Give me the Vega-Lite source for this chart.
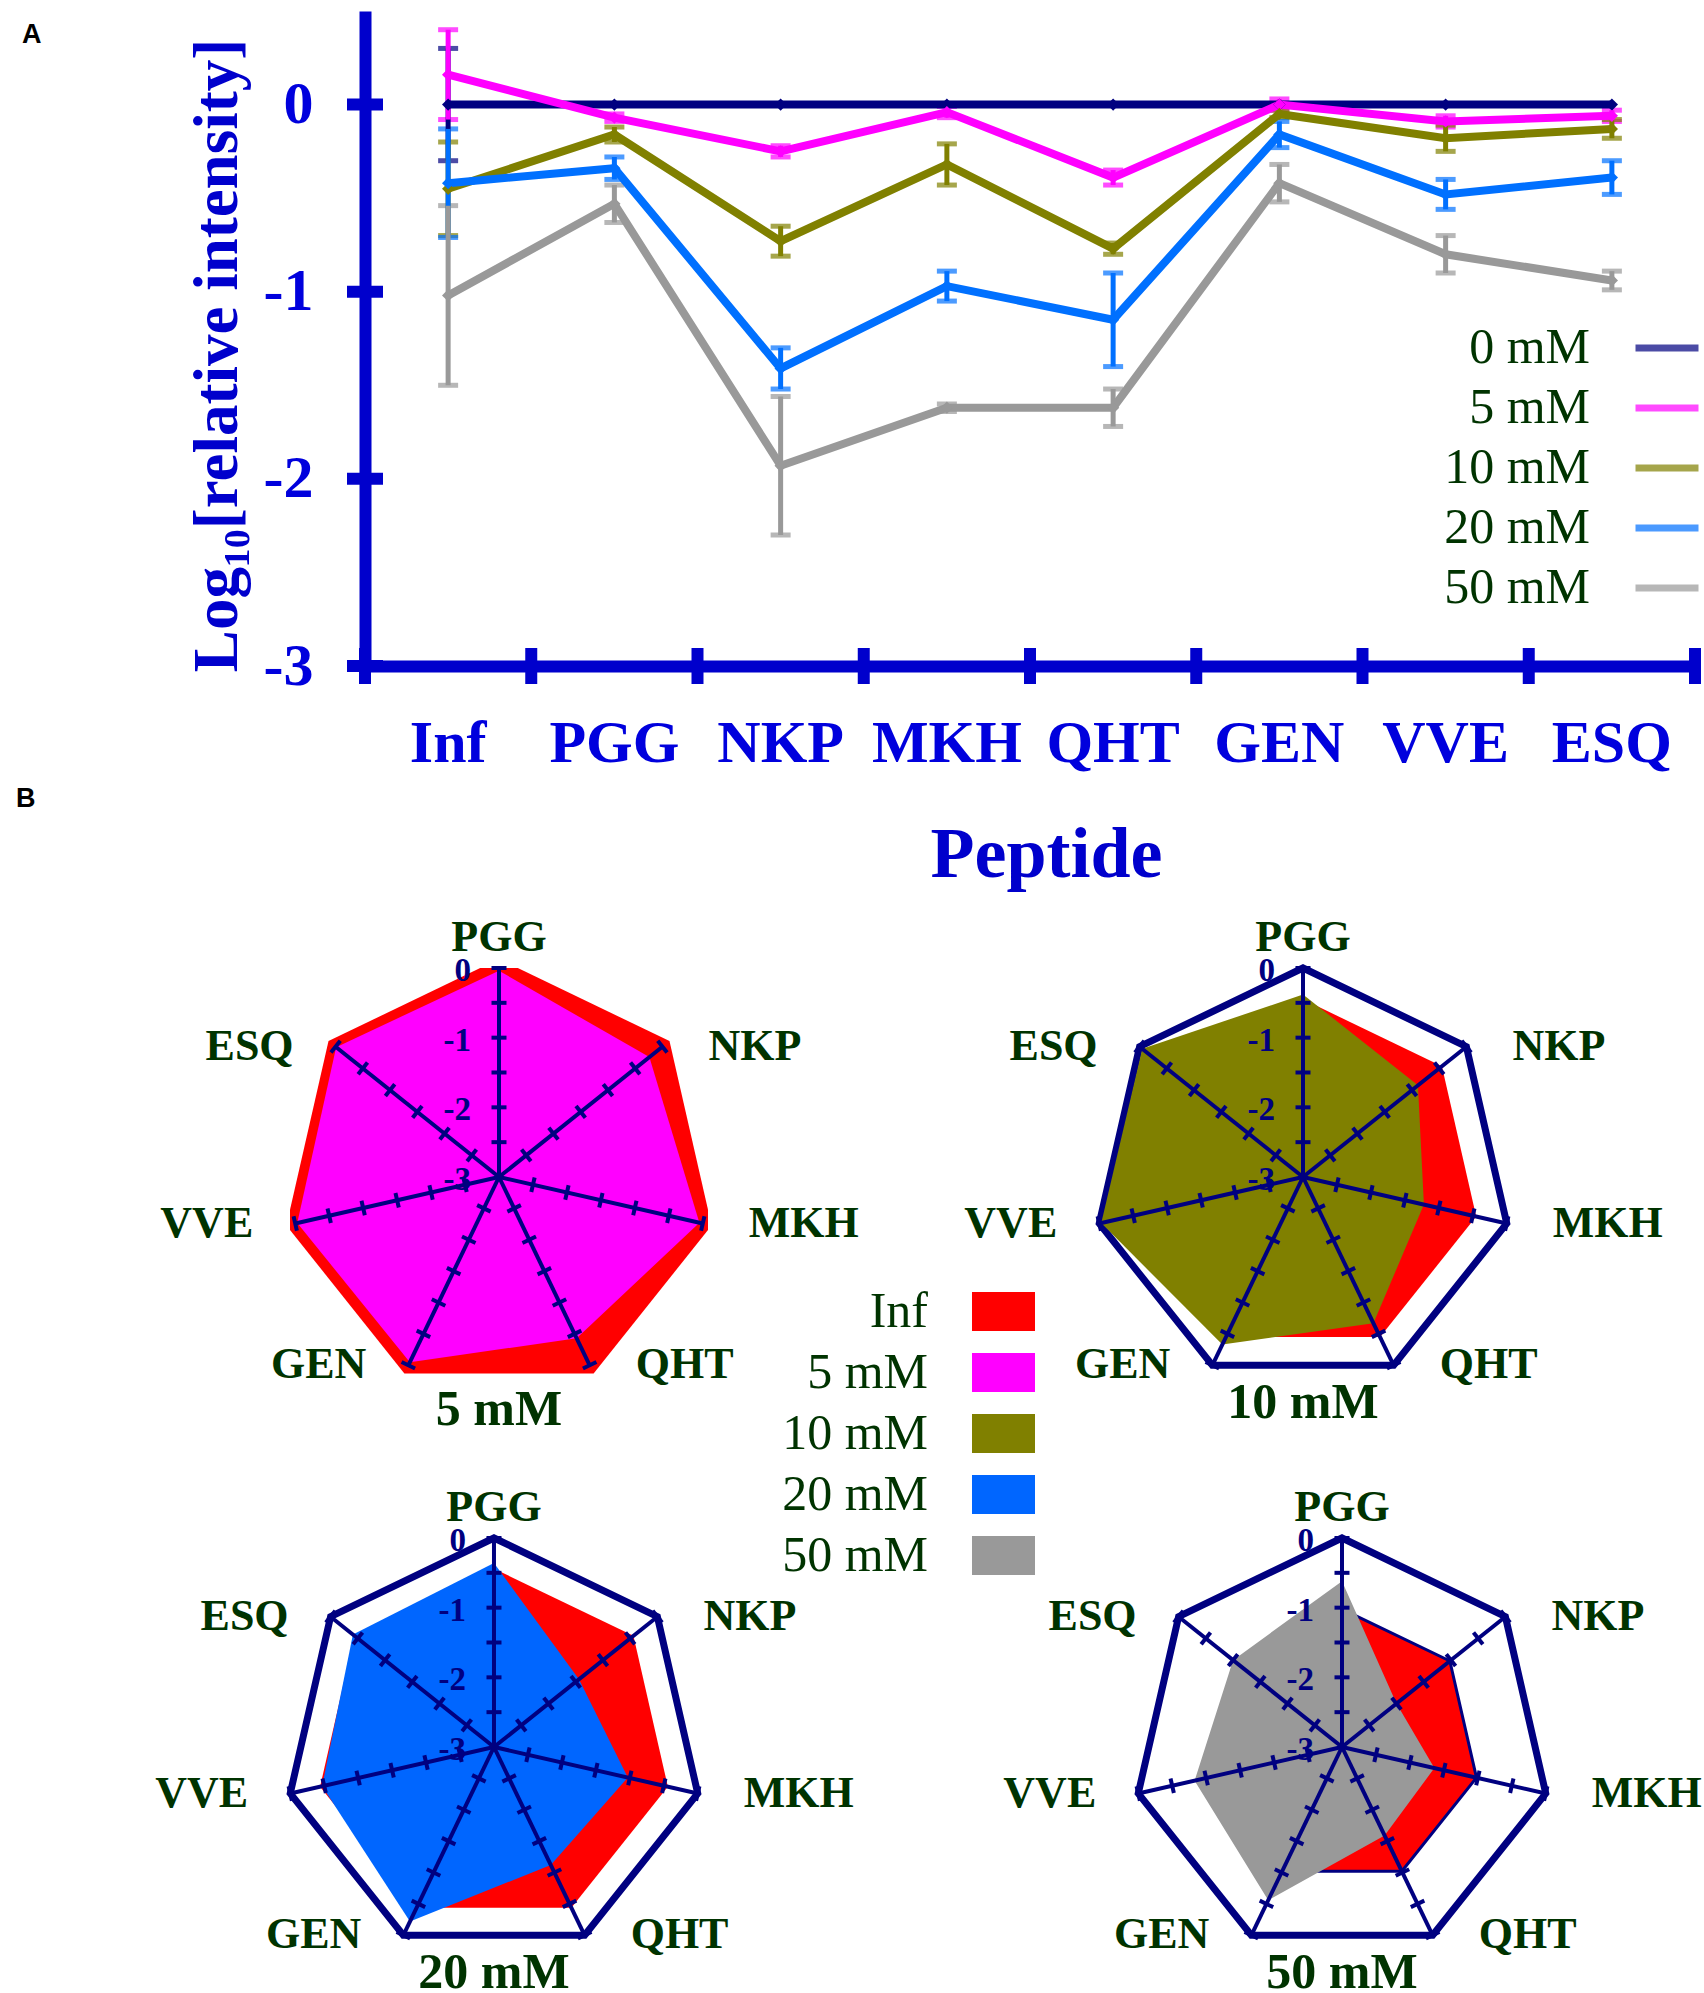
{
  "$schema": "https://vega.github.io/schema/vega-lite/v6.json",
  "autosize": {"type": "pad"},
  "padding": {"left": 16, "top": 11, "right": 0, "bottom": 0},
  "background": "white",
  "config": {
    "view": {"stroke": null},
    "text": {"font": "Liberation Serif"},
    "axis": {"labelFont": "Liberation Serif", "titleFont": "Liberation Serif"},
    "legend": {"labelFont": "Liberation Serif"}
  },
  "datasets": {
    "peptides": [
      {"peptide": "Inf"}, {"peptide": "PGG"}, {"peptide": "NKP"}, {"peptide": "MKH"},
      {"peptide": "QHT"}, {"peptide": "GEN"}, {"peptide": "VVE"}, {"peptide": "ESQ"}
    ],
    "lines": [
      {"conc": "0 mM", "peptide": "Inf", "value": 0, "err": 0.3},
      {"conc": "0 mM", "peptide": "PGG", "value": 0, "err": 0},
      {"conc": "0 mM", "peptide": "NKP", "value": 0, "err": 0},
      {"conc": "0 mM", "peptide": "MKH", "value": 0, "err": 0},
      {"conc": "0 mM", "peptide": "QHT", "value": 0, "err": 0},
      {"conc": "0 mM", "peptide": "GEN", "value": 0, "err": 0},
      {"conc": "0 mM", "peptide": "VVE", "value": 0, "err": 0},
      {"conc": "0 mM", "peptide": "ESQ", "value": 0, "err": 0},
      {"conc": "5 mM", "peptide": "Inf", "value": 0.16, "err": 0.24},
      {"conc": "5 mM", "peptide": "PGG", "value": -0.07, "err": 0.02},
      {"conc": "5 mM", "peptide": "NKP", "value": -0.25, "err": 0.03},
      {"conc": "5 mM", "peptide": "MKH", "value": -0.04, "err": 0.03},
      {"conc": "5 mM", "peptide": "QHT", "value": -0.39, "err": 0.04},
      {"conc": "5 mM", "peptide": "GEN", "value": 0.0, "err": 0.03},
      {"conc": "5 mM", "peptide": "VVE", "value": -0.09, "err": 0.03},
      {"conc": "5 mM", "peptide": "ESQ", "value": -0.06, "err": 0.03},
      {"conc": "10 mM", "peptide": "Inf", "value": -0.45, "err": 0.25},
      {"conc": "10 mM", "peptide": "PGG", "value": -0.16, "err": 0.04},
      {"conc": "10 mM", "peptide": "NKP", "value": -0.73, "err": 0.08},
      {"conc": "10 mM", "peptide": "MKH", "value": -0.32, "err": 0.11},
      {"conc": "10 mM", "peptide": "QHT", "value": -0.77, "err": 0.03},
      {"conc": "10 mM", "peptide": "GEN", "value": -0.05, "err": 0.02},
      {"conc": "10 mM", "peptide": "VVE", "value": -0.18, "err": 0.07},
      {"conc": "10 mM", "peptide": "ESQ", "value": -0.13, "err": 0.05},
      {"conc": "20 mM", "peptide": "Inf", "value": -0.42, "err": 0.29},
      {"conc": "20 mM", "peptide": "PGG", "value": -0.34, "err": 0.06},
      {"conc": "20 mM", "peptide": "NKP", "value": -1.41, "err": 0.11},
      {"conc": "20 mM", "peptide": "MKH", "value": -0.97, "err": 0.08},
      {"conc": "20 mM", "peptide": "QHT", "value": -1.15, "err": 0.25},
      {"conc": "20 mM", "peptide": "GEN", "value": -0.16, "err": 0.07},
      {"conc": "20 mM", "peptide": "VVE", "value": -0.48, "err": 0.08},
      {"conc": "20 mM", "peptide": "ESQ", "value": -0.39, "err": 0.09},
      {"conc": "50 mM", "peptide": "Inf", "value": -1.02, "err": 0.48},
      {"conc": "50 mM", "peptide": "PGG", "value": -0.53, "err": 0.1},
      {"conc": "50 mM", "peptide": "NKP", "value": -1.93, "err": 0.37},
      {"conc": "50 mM", "peptide": "MKH", "value": -1.62, "err": 0.02},
      {"conc": "50 mM", "peptide": "QHT", "value": -1.62, "err": 0.1},
      {"conc": "50 mM", "peptide": "GEN", "value": -0.42, "err": 0.1},
      {"conc": "50 mM", "peptide": "VVE", "value": -0.8, "err": 0.1},
      {"conc": "50 mM", "peptide": "ESQ", "value": -0.94, "err": 0.05}
    ],
    "yticks": [
      {"peptide": "Inf", "v": -3}, {"peptide": "Inf", "v": -2}, {"peptide": "Inf", "v": -1}, {"peptide": "Inf", "v": 0}
    ],
    "spokes": [
      {"peptide": "PGG", "k": 0, "lv": [-2.5, -2, -1.5, -1, -0.5, 0]},
      {"peptide": "NKP", "k": 1, "lv": [-2.5, -2, -1.5, -1, -0.5, 0]},
      {"peptide": "MKH", "k": 2, "lv": [-2.5, -2, -1.5, -1, -0.5, 0]},
      {"peptide": "QHT", "k": 3, "lv": [-2.5, -2, -1.5, -1, -0.5, 0]},
      {"peptide": "GEN", "k": 4, "lv": [-2.5, -2, -1.5, -1, -0.5, 0]},
      {"peptide": "VVE", "k": 5, "lv": [-2.5, -2, -1.5, -1, -0.5, 0]},
      {"peptide": "ESQ", "k": 6, "lv": [-2.5, -2, -1.5, -1, -0.5, 0]}
    ],
    "rlabels": [
      {"lab": "0", "v": 0}, {"lab": "-1", "v": -1}, {"lab": "-2", "v": -2}, {"lab": "-3", "v": -3}
    ],
    "radar": [
      {"panel": "5 mM", "series": "Inf", "peptide": "PGG", "value": 0.13},
      {"panel": "5 mM", "series": "Inf", "peptide": "NKP", "value": 0.13},
      {"panel": "5 mM", "series": "Inf", "peptide": "MKH", "value": 0.13},
      {"panel": "5 mM", "series": "Inf", "peptide": "QHT", "value": 0.13},
      {"panel": "5 mM", "series": "Inf", "peptide": "GEN", "value": 0.13},
      {"panel": "5 mM", "series": "Inf", "peptide": "VVE", "value": 0.13},
      {"panel": "5 mM", "series": "Inf", "peptide": "ESQ", "value": 0.13},
      {"panel": "5 mM", "series": "5 mM", "peptide": "PGG", "value": -0.04},
      {"panel": "5 mM", "series": "5 mM", "peptide": "NKP", "value": -0.24},
      {"panel": "5 mM", "series": "5 mM", "peptide": "MKH", "value": -0.05},
      {"panel": "5 mM", "series": "5 mM", "peptide": "QHT", "value": -0.43},
      {"panel": "5 mM", "series": "5 mM", "peptide": "GEN", "value": -0.05},
      {"panel": "5 mM", "series": "5 mM", "peptide": "VVE", "value": -0.03},
      {"panel": "5 mM", "series": "5 mM", "peptide": "ESQ", "value": -0.01},
      {"panel": "10 mM", "series": "Inf", "peptide": "PGG", "value": -0.45},
      {"panel": "10 mM", "series": "Inf", "peptide": "NKP", "value": -0.45},
      {"panel": "10 mM", "series": "Inf", "peptide": "MKH", "value": -0.45},
      {"panel": "10 mM", "series": "Inf", "peptide": "QHT", "value": -0.45},
      {"panel": "10 mM", "series": "Inf", "peptide": "GEN", "value": -0.45},
      {"panel": "10 mM", "series": "Inf", "peptide": "VVE", "value": -0.45},
      {"panel": "10 mM", "series": "Inf", "peptide": "ESQ", "value": -0.45},
      {"panel": "10 mM", "series": "10 mM", "peptide": "PGG", "value": -0.38},
      {"panel": "10 mM", "series": "10 mM", "peptide": "NKP", "value": -0.89},
      {"panel": "10 mM", "series": "10 mM", "peptide": "MKH", "value": -1.22},
      {"panel": "10 mM", "series": "10 mM", "peptide": "QHT", "value": -0.67},
      {"panel": "10 mM", "series": "10 mM", "peptide": "GEN", "value": -0.33},
      {"panel": "10 mM", "series": "10 mM", "peptide": "VVE", "value": -0.03},
      {"panel": "10 mM", "series": "10 mM", "peptide": "ESQ", "value": -0.05},
      {"panel": "20 mM", "series": "Inf", "peptide": "PGG", "value": -0.44},
      {"panel": "20 mM", "series": "Inf", "peptide": "NKP", "value": -0.44},
      {"panel": "20 mM", "series": "Inf", "peptide": "MKH", "value": -0.44},
      {"panel": "20 mM", "series": "Inf", "peptide": "QHT", "value": -0.44},
      {"panel": "20 mM", "series": "Inf", "peptide": "GEN", "value": -0.44},
      {"panel": "20 mM", "series": "Inf", "peptide": "VVE", "value": -0.44},
      {"panel": "20 mM", "series": "Inf", "peptide": "ESQ", "value": -0.44},
      {"panel": "20 mM", "series": "20 mM", "peptide": "PGG", "value": -0.36},
      {"panel": "20 mM", "series": "20 mM", "peptide": "NKP", "value": -1.44},
      {"panel": "20 mM", "series": "20 mM", "peptide": "MKH", "value": -1.03},
      {"panel": "20 mM", "series": "20 mM", "peptide": "QHT", "value": -1.12},
      {"panel": "20 mM", "series": "20 mM", "peptide": "GEN", "value": -0.22},
      {"panel": "20 mM", "series": "20 mM", "peptide": "VVE", "value": -0.47},
      {"panel": "20 mM", "series": "20 mM", "peptide": "ESQ", "value": -0.41},
      {"panel": "50 mM", "series": "Inf", "peptide": "PGG", "value": -1.02},
      {"panel": "50 mM", "series": "Inf", "peptide": "NKP", "value": -1.02},
      {"panel": "50 mM", "series": "Inf", "peptide": "MKH", "value": -1.02},
      {"panel": "50 mM", "series": "Inf", "peptide": "QHT", "value": -1.02},
      {"panel": "50 mM", "series": "Inf", "peptide": "GEN", "value": -1.02},
      {"panel": "50 mM", "series": "Inf", "peptide": "VVE", "value": -1.02},
      {"panel": "50 mM", "series": "Inf", "peptide": "ESQ", "value": -1.02},
      {"panel": "50 mM", "series": "50 mM", "peptide": "PGG", "value": -0.62},
      {"panel": "50 mM", "series": "50 mM", "peptide": "NKP", "value": -2.0},
      {"panel": "50 mM", "series": "50 mM", "peptide": "MKH", "value": -1.64},
      {"panel": "50 mM", "series": "50 mM", "peptide": "QHT", "value": -1.59},
      {"panel": "50 mM", "series": "50 mM", "peptide": "GEN", "value": -0.56},
      {"panel": "50 mM", "series": "50 mM", "peptide": "VVE", "value": -0.83},
      {"panel": "50 mM", "series": "50 mM", "peptide": "ESQ", "value": -1.0}
    ]
  },
  "resolve": {"scale": {"color": "independent"}, "legend": {"color": "independent"}},
  "bounds": "flush",
  "spacing": 302,
  "vconcat": [
    {
      "width": 1405,
      "height": 655,
      "title": {"text": "A", "anchor": "start", "frame": "group", "offset": 0, "dx": -268, "dy": 59, "baseline": "alphabetic", "font": "Liberation Sans", "fontSize": 27, "fontWeight": "bold", "color": "#000000"},
      "layer": [
        {
          "data": {"name": "lines"},
          "transform": [{"filter": "datum.err > 0"}],
          "mark": {"type": "errorbar", "ticks": {"size": 20, "thickness": 5}, "rule": {"strokeWidth": 5}},
          "encoding": {
            "x": {"field": "peptide", "type": "nominal", "title": "Peptide"},
            "y": {"field": "value", "type": "quantitative", "title": "Log₁₀[relative intensity]"},
            "yError": {"field": "err"},
            "color": {"field": "conc", "type": "nominal"}
          }
        },
        {
          "data": {"name": "lines"},
          "mark": {"type": "line", "strokeWidth": 8},
          "encoding": {
            "x": {
              "field": "peptide", "type": "nominal", "title": "Peptide",
              "scale": {"domain": ["Inf", "PGG", "NKP", "MKH", "QHT", "GEN", "VVE", "ESQ"], "range": [75, 1405], "paddingInner": 0, "paddingOuter": 0},
              "axis": {
                "orient": "bottom", "domain": true, "domainColor": "#0000CC", "domainWidth": 12, "domainCap": "butt",
                "ticks": false, "tickSize": 0, "grid": false, "labelAngle": 0, "labelAlign": "center",
                "labelFont": "Liberation Serif", "labelFontWeight": "bold", "labelFontSize": 60, "labelColor": "#0000DD",
                "labelPadding": 48, "labelBaseline": "top", "labelOverlap": false, "labelLimit": 0,
                "titleFont": "Liberation Serif", "titleFontWeight": "bold", "titleFontSize": 72,
                "titleColor": "#0000CC", "titleX": 756, "titleY": 210, "titleAlign": "center", "titleBaseline": "alphabetic"
              }
            },
            "y": {
              "field": "value", "type": "quantitative", "title": "Log₁₀[relative intensity]",
              "scale": {"domain": [-3, 0.5], "nice": false, "zero": false},
              "axis": {
                "orient": "left", "offset": -75, "values": [-3, -2, -1, 0], "labelExpr": "'' + datum.value",
                "domain": true, "domainColor": "#0000CC", "domainWidth": 12, "domainCap": "butt",
                "ticks": false, "tickSize": 0, "grid": false,
                "labelFont": "Liberation Serif", "labelFontWeight": "bold", "labelFontSize": 60, "labelColor": "#0000DD",
                "labelPadding": 52, "labelBaseline": "middle", "labelAlign": "right", "labelOverlap": false, "labelFlush": false,
                "titleFont": "Liberation Serif", "titleFontWeight": "bold", "titleFontSize": 63,
                "titleColor": "#0000CC", "titleX": -129, "titleY": 344, "titleAngle": -90, "titleAlign": "center", "titleBaseline": "alphabetic"
              }
            },
            "order": {"value": null},
            "color": {
              "field": "conc", "type": "nominal",
              "scale": {"domain": ["0 mM", "5 mM", "10 mM", "20 mM", "50 mM"], "range": ["#000080", "#FF00FF", "#808000", "#0070FF", "#999999"]},
              "legend": {
                "orient": "none", "legendX": 1342, "legendY": 302, "title": null, "direction": "vertical",
                "symbolType": "stroke", "symbolSize": 3969, "symbolStrokeWidth": 7, "symbolOpacity": 1,
                "labelAlign": "right", "labelBaseline": "middle", "labelOffset": -112,
                "labelFont": "Liberation Serif", "labelFontSize": 50, "labelColor": "#003300", "labelLimit": 0,
                "rowPadding": 0, "padding": 0
              }
            }
          }
        },
        {
          "data": {"name": "lines"},
          "mark": {"type": "point", "shape": "diamond", "filled": true, "size": 150, "opacity": 1},
          "encoding": {
            "x": {"field": "peptide", "type": "nominal", "title": "Peptide"},
            "y": {"field": "value", "type": "quantitative", "title": "Log₁₀[relative intensity]"},
            "color": {"field": "conc", "type": "nominal"}
          }
        },
        {
          "data": {"name": "yticks"},
          "mark": {"type": "point", "shape": "M-1,-0.333H1V0.333H-1Z", "filled": true, "size": 1296, "color": "#0000CC", "opacity": 1, "strokeWidth": 0},
          "encoding": {
            "x": {"field": "peptide", "type": "nominal", "bandPosition": 0, "title": "Peptide"},
            "y": {"field": "v", "type": "quantitative", "title": "Log₁₀[relative intensity]"}
          }
        },
        {
          "data": {"name": "peptides"},
          "mark": {"type": "tick", "orient": "vertical", "size": 36, "thickness": 12, "color": "#0000CC", "opacity": 1},
          "encoding": {
            "x": {"field": "peptide", "type": "nominal", "bandPosition": 0, "title": "Peptide"},
            "y": {"datum": -3, "title": "Log₁₀[relative intensity]"}
          }
        },
        {
          "data": {"name": "peptides"},
          "transform": [{"filter": "datum.peptide === 'ESQ'"}],
          "mark": {"type": "tick", "orient": "vertical", "size": 36, "thickness": 12, "color": "#0000CC", "opacity": 1},
          "encoding": {
            "x": {"field": "peptide", "type": "nominal", "bandPosition": 1, "title": "Peptide"},
            "y": {"datum": -3, "title": "Log₁₀[relative intensity]"}
          }
        }
      ]
    },
    {
      "title": {"text": "B", "anchor": "start", "frame": "group", "offset": 0, "dx": -274, "dy": -82, "baseline": "alphabetic", "font": "Liberation Sans", "fontSize": 27, "fontWeight": "bold", "color": "#000000"},
      "bounds": "flush",
      "columns": 2,
      "spacing": {"row": 152, "column": 386},
      "concat": [
        {
          "width": 418, "height": 418,
          "layer": [
            {
              "data": {"name": "radar"},
              "transform": [
                {"filter": "datum.panel === '5 mM' && datum.series === 'Inf'"},
                {"lookup": "peptide", "from": {"data": {"name": "spokes"}, "key": "peptide", "fields": ["k"]}},
                {"calculate": "(datum.value + 3) / 3 * sin(datum.k * 2 * PI / 7)", "as": "x"},
                {"calculate": "(datum.value + 3) / 3 * cos(datum.k * 2 * PI / 7)", "as": "y"}
              ],
              "mark": {"type": "line", "interpolate": "linear-closed", "filled": true, "clip": true, "strokeWidth": 0},
              "encoding": {
                "x": {"field": "x", "type": "quantitative", "scale": {"domain": [-1, 1], "nice": false, "zero": false}, "axis": null},
                "y": {"field": "y", "type": "quantitative", "scale": {"domain": [-1, 1], "nice": false, "zero": false}, "axis": null},
                "order": {"field": "k"},
                "color": {
                  "field": "series", "type": "nominal",
                  "scale": {"domain": ["Inf", "5 mM", "10 mM", "20 mM", "50 mM"], "range": ["#FF0000", "#FF00FF", "#808000", "#0066FF", "#999999"]},
                  "legend": {
                    "orient": "none", "legendX": 682, "legendY": 312, "title": null, "direction": "vertical",
                    "symbolType": "M-1,-0.62H1V0.62H-1Z", "symbolSize": 3969, "symbolStrokeWidth": 0, "symbolOpacity": 1,
                    "labelAlign": "right", "labelBaseline": "middle", "labelOffset": -107,
                    "labelFont": "Liberation Serif", "labelFontSize": 50, "labelColor": "#003300", "labelLimit": 0,
                    "rowPadding": 4, "padding": 0
                  }
                }
              }
            },
            {
              "data": {"name": "radar"},
              "transform": [
                {"filter": "datum.panel === '5 mM' && datum.series === '5 mM'"},
                {"lookup": "peptide", "from": {"data": {"name": "spokes"}, "key": "peptide", "fields": ["k"]}},
                {"calculate": "(datum.value + 3) / 3 * sin(datum.k * 2 * PI / 7)", "as": "x"},
                {"calculate": "(datum.value + 3) / 3 * cos(datum.k * 2 * PI / 7)", "as": "y"}
              ],
              "mark": {"type": "line", "interpolate": "linear-closed", "filled": true, "clip": true, "strokeWidth": 0},
              "encoding": {
                "x": {"field": "x", "type": "quantitative", "axis": null},
                "y": {"field": "y", "type": "quantitative", "axis": null},
                "order": {"field": "k"},
                "color": {"field": "series", "type": "nominal"}
              }
            },
            {
              "data": {"name": "rlabels"},
              "transform": [{"calculate": "(datum.v + 3) / 3", "as": "y"}],
              "mark": {"type": "text", "align": "right", "baseline": "middle", "dx": -28, "dy": 3, "font": "Liberation Serif", "fontWeight": "bold", "fontSize": 33, "color": "#000080"},
              "encoding": {"x": {"datum": 0, "type": "quantitative"}, "y": {"field": "y", "type": "quantitative"}, "text": {"field": "lab"}}
            },
            {
              "data": {"name": "spokes"},
              "transform": [
                {"calculate": "sin(datum.k * 2 * PI / 7)", "as": "x"},
                {"calculate": "cos(datum.k * 2 * PI / 7)", "as": "y"}
              ],
              "mark": {"type": "rule", "stroke": "#000080", "strokeWidth": 4},
              "encoding": {"x": {"field": "x", "type": "quantitative"}, "y": {"field": "y", "type": "quantitative"}, "x2": {"datum": 0}, "y2": {"datum": 0}}
            },
            {
              "data": {"name": "spokes"},
              "transform": [
                {"flatten": ["lv"]},
                {"calculate": "(datum.lv + 3) / 3 * sin(datum.k * 2 * PI / 7)", "as": "x"},
                {"calculate": "(datum.lv + 3) / 3 * cos(datum.k * 2 * PI / 7)", "as": "y"},
                {"calculate": "datum.k * 360 / 7", "as": "deg"}
              ],
              "mark": {"type": "point", "shape": "stroke", "filled": false, "size": 225, "stroke": "#000080", "strokeWidth": 4, "opacity": 1},
              "encoding": {"x": {"field": "x", "type": "quantitative"}, "y": {"field": "y", "type": "quantitative"}, "angle": {"field": "deg", "type": "quantitative", "scale": null}}
            },
            {
              "data": {"name": "spokes"},
              "transform": [
                {"filter": "datum.k >= 1 && datum.k <= 3"},
                {"calculate": "sin(datum.k * 2 * PI / 7)", "as": "x"},
                {"calculate": "cos(datum.k * 2 * PI / 7)", "as": "y"}
              ],
              "mark": {"type": "text", "align": "left", "baseline": "middle", "dx": 46, "font": "Liberation Serif", "fontWeight": "bold", "fontSize": 44, "color": "#003300"},
              "encoding": {"x": {"field": "x", "type": "quantitative"}, "y": {"field": "y", "type": "quantitative"}, "text": {"field": "peptide"}}
            },
            {
              "data": {"name": "spokes"},
              "transform": [
                {"filter": "datum.k >= 4"},
                {"calculate": "sin(datum.k * 2 * PI / 7)", "as": "x"},
                {"calculate": "cos(datum.k * 2 * PI / 7)", "as": "y"}
              ],
              "mark": {"type": "text", "align": "right", "baseline": "middle", "dx": -42, "font": "Liberation Serif", "fontWeight": "bold", "fontSize": 44, "color": "#003300"},
              "encoding": {"x": {"field": "x", "type": "quantitative"}, "y": {"field": "y", "type": "quantitative"}, "text": {"field": "peptide"}}
            },
            {
              "data": {"name": "spokes"},
              "transform": [{"filter": "datum.k === 0"}],
              "mark": {"type": "text", "align": "center", "baseline": "alphabetic", "dy": -17, "font": "Liberation Serif", "fontWeight": "bold", "fontSize": 44, "color": "#003300"},
              "encoding": {"x": {"datum": 0, "type": "quantitative"}, "y": {"datum": 1, "type": "quantitative"}, "text": {"field": "peptide"}}
            },
            {
              "data": {"values": [{"panel": "5 mM"}]},
              "mark": {"type": "text", "align": "center", "baseline": "alphabetic", "dy": 39, "font": "Liberation Serif", "fontWeight": "bold", "fontSize": 50, "color": "#003300"},
              "encoding": {"x": {"datum": 0, "type": "quantitative"}, "y": {"datum": -1, "type": "quantitative"}, "text": {"field": "panel"}}
            }
          ]
        },
        {
          "width": 418, "height": 418,
          "layer": [
            {
              "data": {"name": "spokes"},
              "transform": [
                {"calculate": "sin(datum.k * 2 * PI / 7)", "as": "x"},
                {"calculate": "cos(datum.k * 2 * PI / 7)", "as": "y"}
              ],
              "mark": {"type": "line", "interpolate": "linear-closed", "stroke": "#000080", "strokeWidth": 7},
              "encoding": {
                "x": {"field": "x", "type": "quantitative", "scale": {"domain": [-1, 1], "nice": false, "zero": false}, "axis": null},
                "y": {"field": "y", "type": "quantitative", "scale": {"domain": [-1, 1], "nice": false, "zero": false}, "axis": null},
                "order": {"field": "k"}
              }
            },
            {
              "data": {"name": "radar"},
              "transform": [
                {"filter": "datum.panel === '10 mM' && datum.series === 'Inf'"},
                {"lookup": "peptide", "from": {"data": {"name": "spokes"}, "key": "peptide", "fields": ["k"]}},
                {"calculate": "(datum.value + 3) / 3 * sin(datum.k * 2 * PI / 7)", "as": "x"},
                {"calculate": "(datum.value + 3) / 3 * cos(datum.k * 2 * PI / 7)", "as": "y"}
              ],
              "mark": {"type": "line", "interpolate": "linear-closed", "filled": true, "clip": true, "strokeWidth": 0},
              "encoding": {
                "x": {"field": "x", "type": "quantitative", "axis": null},
                "y": {"field": "y", "type": "quantitative", "axis": null},
                "order": {"field": "k"},
                "color": {"field": "series", "type": "nominal"}
              }
            },
            {
              "data": {"name": "radar"},
              "transform": [
                {"filter": "datum.panel === '10 mM' && datum.series === '10 mM'"},
                {"lookup": "peptide", "from": {"data": {"name": "spokes"}, "key": "peptide", "fields": ["k"]}},
                {"calculate": "(datum.value + 3) / 3 * sin(datum.k * 2 * PI / 7)", "as": "x"},
                {"calculate": "(datum.value + 3) / 3 * cos(datum.k * 2 * PI / 7)", "as": "y"}
              ],
              "mark": {"type": "line", "interpolate": "linear-closed", "filled": true, "clip": true, "strokeWidth": 0},
              "encoding": {
                "x": {"field": "x", "type": "quantitative", "axis": null},
                "y": {"field": "y", "type": "quantitative", "axis": null},
                "order": {"field": "k"},
                "color": {"field": "series", "type": "nominal"}
              }
            },
            {
              "data": {"name": "rlabels"},
              "transform": [{"calculate": "(datum.v + 3) / 3", "as": "y"}],
              "mark": {"type": "text", "align": "right", "baseline": "middle", "dx": -28, "dy": 3, "font": "Liberation Serif", "fontWeight": "bold", "fontSize": 33, "color": "#000080"},
              "encoding": {"x": {"datum": 0, "type": "quantitative"}, "y": {"field": "y", "type": "quantitative"}, "text": {"field": "lab"}}
            },
            {
              "data": {"name": "spokes"},
              "transform": [
                {"calculate": "sin(datum.k * 2 * PI / 7)", "as": "x"},
                {"calculate": "cos(datum.k * 2 * PI / 7)", "as": "y"}
              ],
              "mark": {"type": "rule", "stroke": "#000080", "strokeWidth": 4},
              "encoding": {"x": {"field": "x", "type": "quantitative"}, "y": {"field": "y", "type": "quantitative"}, "x2": {"datum": 0}, "y2": {"datum": 0}}
            },
            {
              "data": {"name": "spokes"},
              "transform": [
                {"flatten": ["lv"]},
                {"calculate": "(datum.lv + 3) / 3 * sin(datum.k * 2 * PI / 7)", "as": "x"},
                {"calculate": "(datum.lv + 3) / 3 * cos(datum.k * 2 * PI / 7)", "as": "y"},
                {"calculate": "datum.k * 360 / 7", "as": "deg"}
              ],
              "mark": {"type": "point", "shape": "stroke", "filled": false, "size": 225, "stroke": "#000080", "strokeWidth": 4, "opacity": 1},
              "encoding": {"x": {"field": "x", "type": "quantitative"}, "y": {"field": "y", "type": "quantitative"}, "angle": {"field": "deg", "type": "quantitative", "scale": null}}
            },
            {
              "data": {"name": "spokes"},
              "transform": [
                {"filter": "datum.k >= 1 && datum.k <= 3"},
                {"calculate": "sin(datum.k * 2 * PI / 7)", "as": "x"},
                {"calculate": "cos(datum.k * 2 * PI / 7)", "as": "y"}
              ],
              "mark": {"type": "text", "align": "left", "baseline": "middle", "dx": 46, "font": "Liberation Serif", "fontWeight": "bold", "fontSize": 44, "color": "#003300"},
              "encoding": {"x": {"field": "x", "type": "quantitative"}, "y": {"field": "y", "type": "quantitative"}, "text": {"field": "peptide"}}
            },
            {
              "data": {"name": "spokes"},
              "transform": [
                {"filter": "datum.k >= 4"},
                {"calculate": "sin(datum.k * 2 * PI / 7)", "as": "x"},
                {"calculate": "cos(datum.k * 2 * PI / 7)", "as": "y"}
              ],
              "mark": {"type": "text", "align": "right", "baseline": "middle", "dx": -42, "font": "Liberation Serif", "fontWeight": "bold", "fontSize": 44, "color": "#003300"},
              "encoding": {"x": {"field": "x", "type": "quantitative"}, "y": {"field": "y", "type": "quantitative"}, "text": {"field": "peptide"}}
            },
            {
              "data": {"name": "spokes"},
              "transform": [{"filter": "datum.k === 0"}],
              "mark": {"type": "text", "align": "center", "baseline": "alphabetic", "dy": -17, "font": "Liberation Serif", "fontWeight": "bold", "fontSize": 44, "color": "#003300"},
              "encoding": {"x": {"datum": 0, "type": "quantitative"}, "y": {"datum": 1, "type": "quantitative"}, "text": {"field": "peptide"}}
            },
            {
              "data": {"values": [{"panel": "10 mM"}]},
              "mark": {"type": "text", "align": "center", "baseline": "alphabetic", "dy": 32, "font": "Liberation Serif", "fontWeight": "bold", "fontSize": 50, "color": "#003300"},
              "encoding": {"x": {"datum": 0, "type": "quantitative"}, "y": {"datum": -1, "type": "quantitative"}, "text": {"field": "panel"}}
            }
          ]
        },
        {
          "width": 418, "height": 418,
          "layer": [
            {
              "data": {"name": "spokes"},
              "transform": [
                {"calculate": "sin(datum.k * 2 * PI / 7)", "as": "x"},
                {"calculate": "cos(datum.k * 2 * PI / 7)", "as": "y"}
              ],
              "mark": {"type": "line", "interpolate": "linear-closed", "stroke": "#000080", "strokeWidth": 7},
              "encoding": {
                "x": {"field": "x", "type": "quantitative", "scale": {"domain": [-0.976, 1.024], "nice": false, "zero": false}, "axis": null},
                "y": {"field": "y", "type": "quantitative", "scale": {"domain": [-1, 1], "nice": false, "zero": false}, "axis": null},
                "order": {"field": "k"}
              }
            },
            {
              "data": {"name": "radar"},
              "transform": [
                {"filter": "datum.panel === '20 mM' && datum.series === 'Inf'"},
                {"lookup": "peptide", "from": {"data": {"name": "spokes"}, "key": "peptide", "fields": ["k"]}},
                {"calculate": "(datum.value + 3) / 3 * sin(datum.k * 2 * PI / 7)", "as": "x"},
                {"calculate": "(datum.value + 3) / 3 * cos(datum.k * 2 * PI / 7)", "as": "y"}
              ],
              "mark": {"type": "line", "interpolate": "linear-closed", "filled": true, "strokeWidth": 0},
              "encoding": {
                "x": {"field": "x", "type": "quantitative", "axis": null},
                "y": {"field": "y", "type": "quantitative", "axis": null},
                "order": {"field": "k"},
                "color": {"field": "series", "type": "nominal"}
              }
            },
            {
              "data": {"name": "radar"},
              "transform": [
                {"filter": "datum.panel === '20 mM' && datum.series === '20 mM'"},
                {"lookup": "peptide", "from": {"data": {"name": "spokes"}, "key": "peptide", "fields": ["k"]}},
                {"calculate": "(datum.value + 3) / 3 * sin(datum.k * 2 * PI / 7)", "as": "x"},
                {"calculate": "(datum.value + 3) / 3 * cos(datum.k * 2 * PI / 7)", "as": "y"}
              ],
              "mark": {"type": "line", "interpolate": "linear-closed", "filled": true, "strokeWidth": 0},
              "encoding": {
                "x": {"field": "x", "type": "quantitative", "axis": null},
                "y": {"field": "y", "type": "quantitative", "axis": null},
                "order": {"field": "k"},
                "color": {"field": "series", "type": "nominal"}
              }
            },
            {
              "data": {"name": "rlabels"},
              "transform": [{"calculate": "(datum.v + 3) / 3", "as": "y"}],
              "mark": {"type": "text", "align": "right", "baseline": "middle", "dx": -28, "dy": 3, "font": "Liberation Serif", "fontWeight": "bold", "fontSize": 33, "color": "#000080"},
              "encoding": {"x": {"datum": 0, "type": "quantitative"}, "y": {"field": "y", "type": "quantitative"}, "text": {"field": "lab"}}
            },
            {
              "data": {"name": "spokes"},
              "transform": [
                {"calculate": "sin(datum.k * 2 * PI / 7)", "as": "x"},
                {"calculate": "cos(datum.k * 2 * PI / 7)", "as": "y"}
              ],
              "mark": {"type": "rule", "stroke": "#000080", "strokeWidth": 4},
              "encoding": {"x": {"field": "x", "type": "quantitative"}, "y": {"field": "y", "type": "quantitative"}, "x2": {"datum": 0}, "y2": {"datum": 0}}
            },
            {
              "data": {"name": "spokes"},
              "transform": [
                {"flatten": ["lv"]},
                {"calculate": "(datum.lv + 3) / 3 * sin(datum.k * 2 * PI / 7)", "as": "x"},
                {"calculate": "(datum.lv + 3) / 3 * cos(datum.k * 2 * PI / 7)", "as": "y"},
                {"calculate": "datum.k * 360 / 7", "as": "deg"}
              ],
              "mark": {"type": "point", "shape": "stroke", "filled": false, "size": 225, "stroke": "#000080", "strokeWidth": 4, "opacity": 1},
              "encoding": {"x": {"field": "x", "type": "quantitative"}, "y": {"field": "y", "type": "quantitative"}, "angle": {"field": "deg", "type": "quantitative", "scale": null}}
            },
            {
              "data": {"name": "spokes"},
              "transform": [
                {"filter": "datum.k >= 1 && datum.k <= 3"},
                {"calculate": "sin(datum.k * 2 * PI / 7)", "as": "x"},
                {"calculate": "cos(datum.k * 2 * PI / 7)", "as": "y"}
              ],
              "mark": {"type": "text", "align": "left", "baseline": "middle", "dx": 46, "font": "Liberation Serif", "fontWeight": "bold", "fontSize": 44, "color": "#003300"},
              "encoding": {"x": {"field": "x", "type": "quantitative"}, "y": {"field": "y", "type": "quantitative"}, "text": {"field": "peptide"}}
            },
            {
              "data": {"name": "spokes"},
              "transform": [
                {"filter": "datum.k >= 4"},
                {"calculate": "sin(datum.k * 2 * PI / 7)", "as": "x"},
                {"calculate": "cos(datum.k * 2 * PI / 7)", "as": "y"}
              ],
              "mark": {"type": "text", "align": "right", "baseline": "middle", "dx": -42, "font": "Liberation Serif", "fontWeight": "bold", "fontSize": 44, "color": "#003300"},
              "encoding": {"x": {"field": "x", "type": "quantitative"}, "y": {"field": "y", "type": "quantitative"}, "text": {"field": "peptide"}}
            },
            {
              "data": {"name": "spokes"},
              "transform": [{"filter": "datum.k === 0"}],
              "mark": {"type": "text", "align": "center", "baseline": "alphabetic", "dy": -17, "font": "Liberation Serif", "fontWeight": "bold", "fontSize": 44, "color": "#003300"},
              "encoding": {"x": {"datum": 0, "type": "quantitative"}, "y": {"datum": 1, "type": "quantitative"}, "text": {"field": "peptide"}}
            },
            {
              "data": {"values": [{"panel": "20 mM"}]},
              "mark": {"type": "text", "align": "center", "baseline": "alphabetic", "dy": 32, "font": "Liberation Serif", "fontWeight": "bold", "fontSize": 50, "color": "#003300"},
              "encoding": {"x": {"datum": 0, "type": "quantitative"}, "y": {"datum": -1, "type": "quantitative"}, "text": {"field": "panel"}}
            }
          ]
        },
        {
          "width": 457, "height": 418,
          "layer": [
            {
              "data": {"name": "spokes"},
              "transform": [
                {"calculate": "sin(datum.k * 2 * PI / 7)", "as": "x"},
                {"calculate": "cos(datum.k * 2 * PI / 7)", "as": "y"}
              ],
              "mark": {"type": "line", "interpolate": "linear-closed", "stroke": "#000080", "strokeWidth": 7},
              "encoding": {
                "x": {"field": "x", "type": "quantitative", "scale": {"domain": [-1.1866, 1], "nice": false, "zero": false}, "axis": null},
                "y": {"field": "y", "type": "quantitative", "scale": {"domain": [-1, 1], "nice": false, "zero": false}, "axis": null},
                "order": {"field": "k"}
              }
            },
            {
              "data": {"name": "radar"},
              "transform": [
                {"filter": "datum.panel === '50 mM' && datum.series === 'Inf'"},
                {"lookup": "peptide", "from": {"data": {"name": "spokes"}, "key": "peptide", "fields": ["k"]}},
                {"calculate": "(datum.value + 3) / 3 * sin(datum.k * 2 * PI / 7)", "as": "x"},
                {"calculate": "(datum.value + 3) / 3 * cos(datum.k * 2 * PI / 7)", "as": "y"}
              ],
              "mark": {"type": "line", "interpolate": "linear-closed", "filled": true, "stroke": "#000080", "strokeWidth": 3},
              "encoding": {
                "x": {"field": "x", "type": "quantitative", "axis": null},
                "y": {"field": "y", "type": "quantitative", "axis": null},
                "order": {"field": "k"},
                "color": {"field": "series", "type": "nominal"}
              }
            },
            {
              "data": {"name": "radar"},
              "transform": [
                {"filter": "datum.panel === '50 mM' && datum.series === '50 mM'"},
                {"lookup": "peptide", "from": {"data": {"name": "spokes"}, "key": "peptide", "fields": ["k"]}},
                {"calculate": "(datum.value + 3) / 3 * sin(datum.k * 2 * PI / 7)", "as": "x"},
                {"calculate": "(datum.value + 3) / 3 * cos(datum.k * 2 * PI / 7)", "as": "y"}
              ],
              "mark": {"type": "line", "interpolate": "linear-closed", "filled": true, "strokeWidth": 0},
              "encoding": {
                "x": {"field": "x", "type": "quantitative", "axis": null},
                "y": {"field": "y", "type": "quantitative", "axis": null},
                "order": {"field": "k"},
                "color": {"field": "series", "type": "nominal"}
              }
            },
            {
              "data": {"name": "rlabels"},
              "transform": [{"calculate": "(datum.v + 3) / 3", "as": "y"}],
              "mark": {"type": "text", "align": "right", "baseline": "middle", "dx": -28, "dy": 3, "font": "Liberation Serif", "fontWeight": "bold", "fontSize": 33, "color": "#000080"},
              "encoding": {"x": {"datum": 0, "type": "quantitative"}, "y": {"field": "y", "type": "quantitative"}, "text": {"field": "lab"}}
            },
            {
              "data": {"name": "spokes"},
              "transform": [
                {"calculate": "sin(datum.k * 2 * PI / 7)", "as": "x"},
                {"calculate": "cos(datum.k * 2 * PI / 7)", "as": "y"}
              ],
              "mark": {"type": "rule", "stroke": "#000080", "strokeWidth": 4},
              "encoding": {"x": {"field": "x", "type": "quantitative"}, "y": {"field": "y", "type": "quantitative"}, "x2": {"datum": 0}, "y2": {"datum": 0}}
            },
            {
              "data": {"name": "spokes"},
              "transform": [
                {"flatten": ["lv"]},
                {"calculate": "(datum.lv + 3) / 3 * sin(datum.k * 2 * PI / 7)", "as": "x"},
                {"calculate": "(datum.lv + 3) / 3 * cos(datum.k * 2 * PI / 7)", "as": "y"},
                {"calculate": "datum.k * 360 / 7", "as": "deg"}
              ],
              "mark": {"type": "point", "shape": "stroke", "filled": false, "size": 225, "stroke": "#000080", "strokeWidth": 4, "opacity": 1},
              "encoding": {"x": {"field": "x", "type": "quantitative"}, "y": {"field": "y", "type": "quantitative"}, "angle": {"field": "deg", "type": "quantitative", "scale": null}}
            },
            {
              "data": {"name": "spokes"},
              "transform": [
                {"filter": "datum.k >= 1 && datum.k <= 3"},
                {"calculate": "sin(datum.k * 2 * PI / 7)", "as": "x"},
                {"calculate": "cos(datum.k * 2 * PI / 7)", "as": "y"}
              ],
              "mark": {"type": "text", "align": "left", "baseline": "middle", "dx": 46, "font": "Liberation Serif", "fontWeight": "bold", "fontSize": 44, "color": "#003300"},
              "encoding": {"x": {"field": "x", "type": "quantitative"}, "y": {"field": "y", "type": "quantitative"}, "text": {"field": "peptide"}}
            },
            {
              "data": {"name": "spokes"},
              "transform": [
                {"filter": "datum.k >= 4"},
                {"calculate": "sin(datum.k * 2 * PI / 7)", "as": "x"},
                {"calculate": "cos(datum.k * 2 * PI / 7)", "as": "y"}
              ],
              "mark": {"type": "text", "align": "right", "baseline": "middle", "dx": -42, "font": "Liberation Serif", "fontWeight": "bold", "fontSize": 44, "color": "#003300"},
              "encoding": {"x": {"field": "x", "type": "quantitative"}, "y": {"field": "y", "type": "quantitative"}, "text": {"field": "peptide"}}
            },
            {
              "data": {"name": "spokes"},
              "transform": [{"filter": "datum.k === 0"}],
              "mark": {"type": "text", "align": "center", "baseline": "alphabetic", "dy": -17, "font": "Liberation Serif", "fontWeight": "bold", "fontSize": 44, "color": "#003300"},
              "encoding": {"x": {"datum": 0, "type": "quantitative"}, "y": {"datum": 1, "type": "quantitative"}, "text": {"field": "peptide"}}
            },
            {
              "data": {"values": [{"panel": "50 mM"}]},
              "mark": {"type": "text", "align": "center", "baseline": "alphabetic", "dy": 32, "font": "Liberation Serif", "fontWeight": "bold", "fontSize": 50, "color": "#003300"},
              "encoding": {"x": {"datum": 0, "type": "quantitative"}, "y": {"datum": -1, "type": "quantitative"}, "text": {"field": "panel"}}
            }
          ]
        }
      ]
    }
  ]
}
